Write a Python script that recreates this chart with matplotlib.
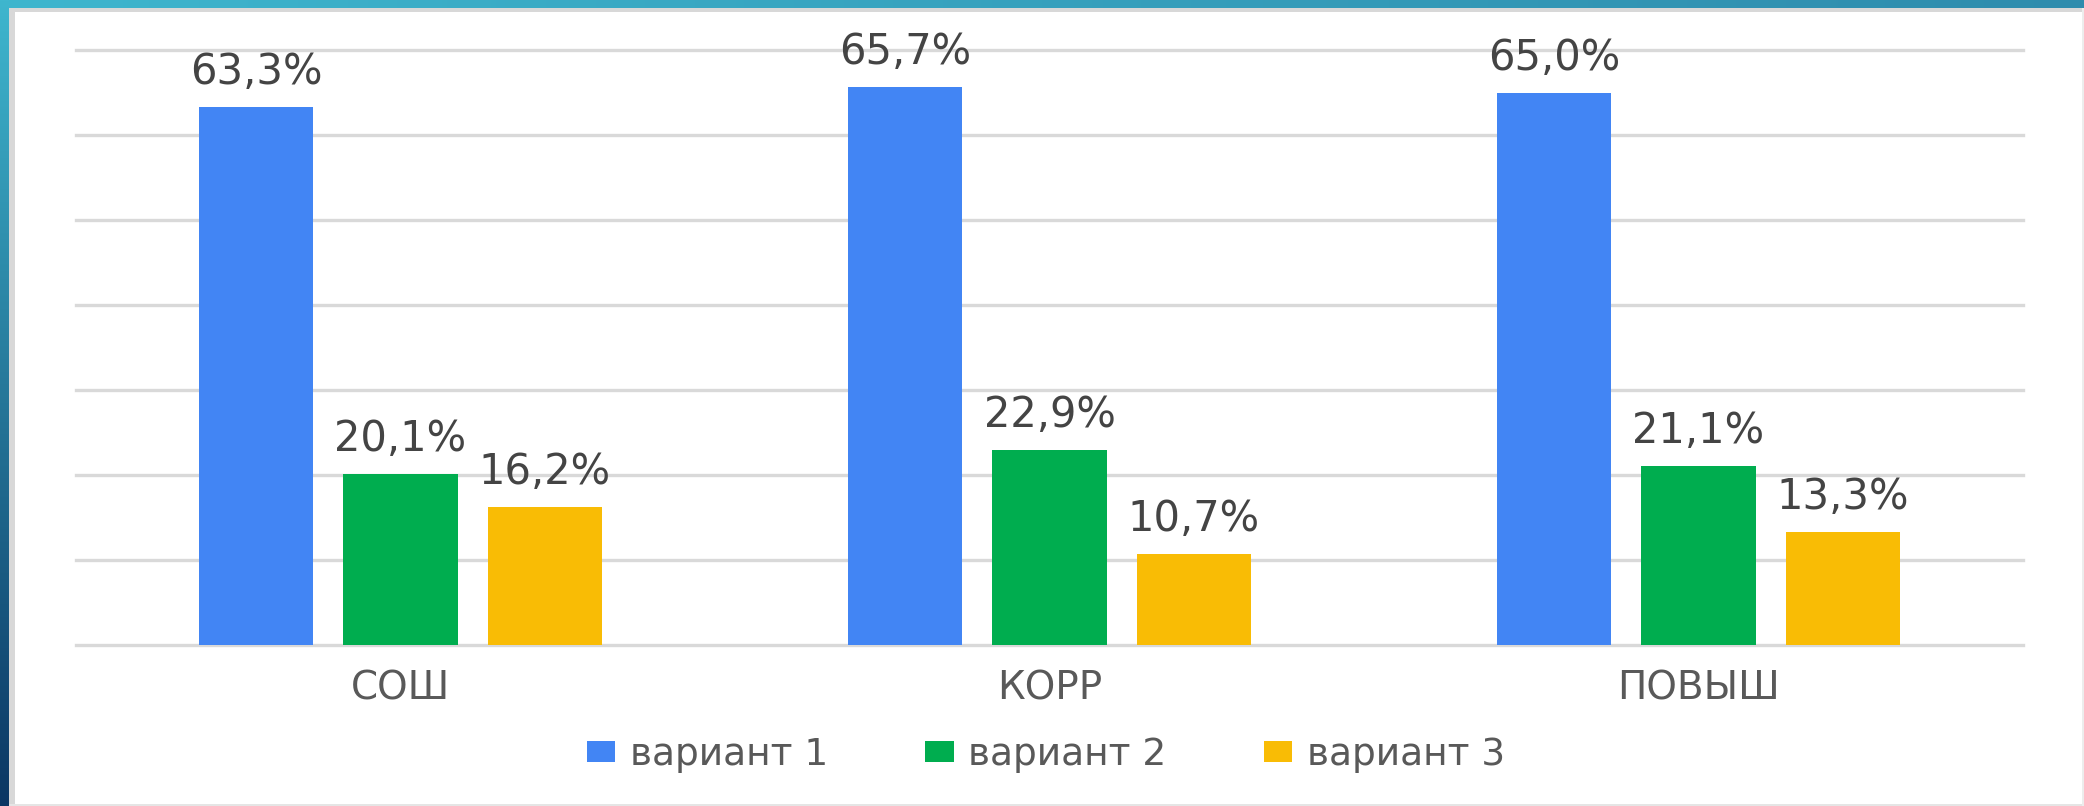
import numpy as np
import matplotlib
matplotlib.use("Agg")
import matplotlib.pyplot as plt

categories = ["СОШ", "КОРР", "ПОВЫШ"]
series_names = ["вариант 1", "вариант 2", "вариант 3"]
v1 = [63.3, 65.7, 65.0]
v2 = [20.1, 22.9, 21.1]
v3 = [16.2, 10.7, 13.3]
series_values = [v1, v2, v3]
colors = ["#4285F4", "#00AD4F", "#F9BC05"]

plt.rcParams['font.family'] = ['DejaVu Sans']

W, H = 2084, 806
fig = plt.figure(figsize=(W / 100, H / 100), dpi=100)
fig.patch.set_facecolor("white")

# decorative frame (background gradient bands)
bg = fig.add_axes([0, 0, 1, 1], zorder=-5)
bg.set_axis_off()
img = np.ones((H, W, 3))
img[8:12, :, :] = 0.85
img[:, 9:15, :] = 0.85
img[H - 2:, :, :] = 0.9
img[:, W - 2:, :] = 0.93
t = np.linspace(0, 1, W)[None, :, None]
top_l = np.array([0x3F, 0xB6, 0xCE]) / 255
top_r = np.array([0x2E, 0x8C, 0xAD]) / 255
img[0:8, :, :] = top_l * (1 - t) + top_r * t
s = np.linspace(0, 1, H)[:, None, None]
left_t = np.array([0x3F, 0xB6, 0xCE]) / 255
left_b = np.array([0x0B, 0x36, 0x63]) / 255
img[:, 0:9, :] = (left_t * (1 - s) + left_b * s)[:, 0:1, :]
bg.imshow(img, aspect="auto", extent=(0, 1, 0, 1), interpolation="nearest")
bg.set_xlim(0, 1)
bg.set_ylim(0, 1)

ax = fig.add_axes([76 / W, 1 - 645 / H, (2023 - 76) / W, (645 - 50) / H])
x = np.arange(len(categories))
pitch = 0.2226
bw = 0.176
for i, (name, vals, c) in enumerate(zip(series_names, series_values, colors)):
    pos = x + (i - 1) * pitch
    bars = ax.bar(pos, vals, width=bw, color=c, label=name, zorder=3)
    for b, v in zip(bars, vals):
        ax.annotate(f"{v:.1f}%".replace(".", ","),
                    xy=(b.get_x() + b.get_width() / 2, v),
                    xytext=(0, 10), textcoords="offset points",
                    ha="center", va="bottom", fontsize=30, color="#444444")

ax.set_xlim(-0.5, 2.5)
ax.set_ylim(0, 70)
ax.set_yticks(np.arange(0, 71, 10))
ax.yaxis.grid(True, color="#D9D9D9", linewidth=2.4, zorder=0)
for gl in ax.get_ygridlines():
    gl.set_clip_on(False)
ax.set_axisbelow(True)
ax.tick_params(axis="y", left=False, labelleft=False)
ax.set_xticks(x)
ax.set_xticklabels(categories, fontsize=28, color="#595959")
ax.tick_params(axis="x", length=0, pad=18)
for sp in ax.spines.values():
    sp.set_visible(False)
ax.set_facecolor("none")

fig.legend(loc="center", bbox_to_anchor=(1046 / W, 1 - 755 / H), ncol=3,
           frameon=False, fontsize=27, labelcolor="#595959",
           handlelength=0.75, handleheight=0.5, handletextpad=0.4,
           columnspacing=2.6)

fig.savefig("out.png", dpi=100)
